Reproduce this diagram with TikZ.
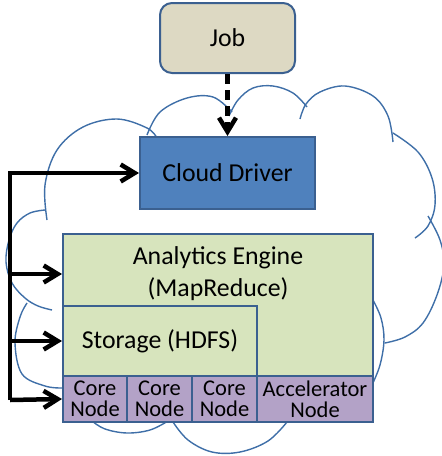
\documentclass[tikz,border=0pt]{standalone}
\usepackage{fontspec}
\setmainfont{Carlito}
\usepackage{tikz}
\usetikzlibrary{arrows.meta,positioning}

\definecolor{cloudblue}{HTML}{3F6FA8}
\definecolor{boxline}{HTML}{3B6090}
\definecolor{jobfill}{HTML}{DDD9C3}
\definecolor{driverfill}{HTML}{4F81BD}
\definecolor{enginefill}{HTML}{D7E4BD}
\definecolor{corefill}{HTML}{B3A2C7}

\tikzset{
  cloudpart/.style={draw=cloudblue, line width=1.4pt, smooth, tension=0.6},
  box/.style={draw=boxline, line width=2pt, inner sep=0pt, align=center},
  bigtext/.style={font=\fontsize{25.8}{32}\selectfont},
  smalltext/.style={font=\fontsize{22.5}{21}\selectfont},
  jobbox/.style={box, bigtext, fill=jobfill, rounded corners=12pt,
    minimum width=135pt, minimum height=70pt},
  driverbox/.style={box, bigtext, fill=driverfill, minimum width=175pt, minimum height=72pt},
  greenbox/.style={box, fill=enginefill},
  corebox/.style={box, smalltext, fill=corefill, minimum height=46pt},
  feed/.style={line width=4.5pt, -{Straight Barb[length=14pt,width=17pt]}},
}

\begin{document}
\begin{tikzpicture}[x=1pt,y=-1pt]
    \useasboundingbox (0,0) rectangle (442,456);

    % cloud outline, bump by bump
    \draw[cloudpart] plot coordinates {(47,220) (45,185) (57,150) (83,127) (117,119) (147,128) (157,138)};
    \draw[cloudpart] plot coordinates {(147,135) (160,112) (187,98) (213,97) (232,112)};
    \draw[cloudpart] plot coordinates {(229,116) (238,100) (253,88) (273,86) (293,93) (307,107)};
    \draw[cloudpart] plot coordinates {(300,119) (306,104) (320,92) (345,86) (373,96) (388,116) (393,142)};
    \draw[cloudpart] plot coordinates {(393,133) (418,152) (432,178) (435,205) (428,226) (415,238)};
    \draw[cloudpart] plot coordinates {(428,216) (440,240) (444,265) (437,295) (423,323) (405,337) (385,343)};
    \draw[cloudpart] plot coordinates {(373,300) (381,318) (384,340) (380,365) (372,385)};
    \draw[cloudpart] plot coordinates {(287,422) (268,441) (240,452) (212,452) (188,440) (173,422)};
    \draw[cloudpart] plot coordinates {(168,421) (150,430) (127,433) (105,429) (92,421)};
    \draw[cloudpart] plot coordinates {(63,388) (45,386) (22,374) (15,343) (20,317) (27,303)};
    \draw[cloudpart] plot coordinates {(52,310) (38,306) (25,298) (12,283) (6,262) (9,240) (17,223) (30,213) (45,210)};

    % boxes
    \node[jobbox] (job) at (227.5,38) {Job};
    \node[driverbox] (driver) at (227.5,173) {Cloud Driver};
    \node[greenbox, minimum width=310pt, minimum height=142pt] (eng) at (218,305) {};
    \node[bigtext, align=center] (englabel) at (218,274) {Analytics Engine\\(MapReduce)};
    \node[greenbox, bigtext, minimum width=194pt, minimum height=70pt] (store) at (160,341) {Storage (HDFS)};
    \foreach \i/\cx/\w in {1/95/64,2/159.5/65,3/224.5/65}
        \node[corebox, minimum width=\w pt] (core\i) at (\cx,399) {Core\\Node};
    \node[corebox, minimum width=116pt] (acc) at (315,399) {Accelerator\\Node};

    % connectors
    \draw[feed, dash pattern=on 10pt off 6pt] (job) -- (driver);
    \coordinate (bustop) at (10,173);
    \coordinate (busbot) at (10,400);
    \draw[feed] (busbot) -- (bustop) -- (driver.west);
    \draw[feed] (englabel -| bustop) -- (englabel -| eng.west);
    \draw[feed] (store -| bustop) -- (store.west);
    \draw[feed] (busbot) -- (core1.west);
\end{tikzpicture}
\end{document}
